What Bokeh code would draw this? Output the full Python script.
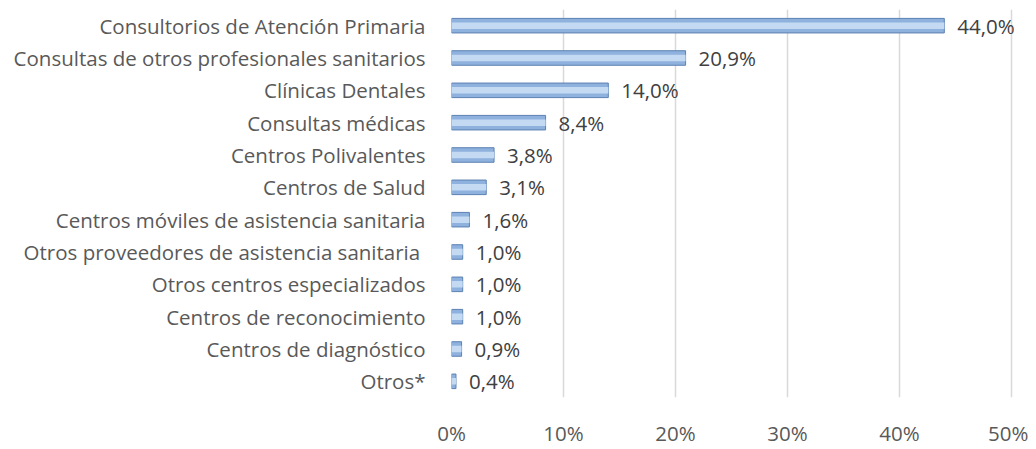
from bokeh.plotting import figure
from bokeh.models import ColumnDataSource, FactorRange, FixedTicker, CustomJSTickFormatter, LabelSet
from bokeh.embed import file_html
from bokeh.resources import INLINE
from bokeh.core.properties import value

categories = [
    "Consultorios de Atención Primaria",
    "Consultas de otros profesionales sanitarios",
    "Clínicas Dentales",
    "Consultas médicas",
    "Centros Polivalentes",
    "Centros de Salud",
    "Centros móviles de asistencia sanitaria",
    "Otros proveedores de asistencia sanitaria ",
    "Otros centros especializados",
    "Centros de reconocimiento",
    "Centros de diagnóstico",
    "Otros*",
]
values = [44.0, 20.9, 14.0, 8.4, 3.8, 3.1, 1.6, 1.0, 1.0, 1.0, 0.9, 0.4]
labels = ["44,0%", "20,9%", "14,0%", "8,4%", "3,8%", "3,1%", "1,6%", "1,0%", "1,0%", "1,0%", "0,9%", "0,4%"]
x_ticks = [0, 10, 20, 30, 40, 50]

src = ColumnDataSource(dict(cat=categories, val=values, lab=labels))

FONT = "Open Sans"
FS = "20.5px"
# frame 575 px wide; 50% sits at 560 px so the last data label has room
p = figure(
    width=1028, height=449,
    y_range=FactorRange(*categories[::-1], range_padding=0),
    x_range=(0, 50 * 575 / 560),
    output_backend="svg", toolbar_location=None,
    min_border_left=451, min_border_right=2, min_border_top=9, min_border_bottom=44,
)
p.outline_line_color = None
p.background_fill_color = "white"

# bars with a bevelled look
p.hbar(y="cat", right="val", left=0, height=0.45, source=src,
       fill_color="#8eb1dd", line_color="#5b80b2", line_width=1)
p.hbar(y="cat", right="val", left=0, height=0.2, source=src,
       fill_color="#c4daf3", line_color=None)

p.add_layout(LabelSet(x="val", y="cat", text="lab", source=src, x_offset=13,
                      text_baseline="middle", text_align="left",
                      text_font=value(FONT), text_font_size=value(FS),
                      text_color=value("#404040")))

p.xaxis.ticker = FixedTicker(ticks=x_ticks)
p.xaxis.formatter = CustomJSTickFormatter(code="return tick + '%';")
p.xaxis.axis_line_color = None
p.xaxis.major_tick_line_color = None
p.xaxis.minor_tick_line_color = None
p.xaxis.major_label_standoff = 15
p.xaxis.major_label_text_font = FONT
p.xaxis.major_label_text_font_size = FS
p.xaxis.major_label_text_color = "#595959"

p.yaxis.axis_line_color = None
p.yaxis.major_tick_line_color = None
p.yaxis.minor_tick_line_color = None
p.yaxis.major_label_standoff = 20
p.yaxis.major_label_text_font = FONT
p.yaxis.major_label_text_font_size = FS
p.yaxis.major_label_text_color = "#595959"

p.xgrid.grid_line_color = "#d9d9d9"
p.xgrid.grid_line_width = 1.5
p.ygrid.grid_line_color = None

open("out.html", "w").write(file_html(p, INLINE))
